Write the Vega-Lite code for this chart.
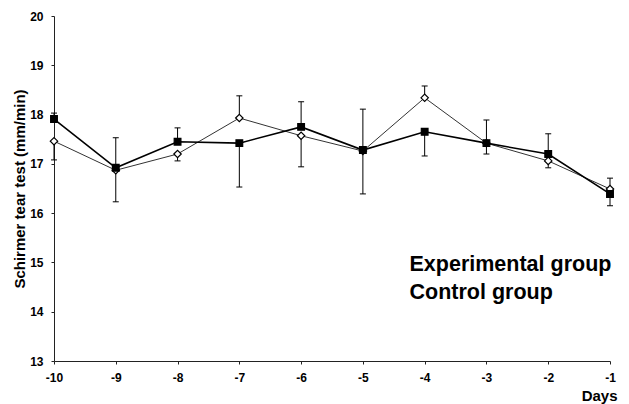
{
  "$schema": "https://vega.github.io/schema/vega-lite/v6.json",
  "width": 556,
  "height": 345,
  "autosize": "none",
  "padding": {"left": 54, "top": 16, "right": 19, "bottom": 43},
  "background": "white",
  "config": {"view": {"stroke": null}, "font": "Liberation Sans"},
  "data": {
    "values": [
      {"day": -10, "group": "Experimental group", "value": 17.46, "bar": 17.08},
      {"day": -9, "group": "Experimental group", "value": 16.87, "bar": 16.23},
      {"day": -8, "group": "Experimental group", "value": 17.2, "bar": 17.06},
      {"day": -7, "group": "Experimental group", "value": 17.93, "bar": 18.38},
      {"day": -6, "group": "Experimental group", "value": 17.57, "bar": 16.94},
      {"day": -5, "group": "Experimental group", "value": 17.26, "bar": 16.39},
      {"day": -4, "group": "Experimental group", "value": 18.34, "bar": 18.58},
      {"day": -3, "group": "Experimental group", "value": 17.42, "bar": 17.2},
      {"day": -2, "group": "Experimental group", "value": 17.06, "bar": 16.92},
      {"day": -1, "group": "Experimental group", "value": 16.49, "bar": 16.71},
      {"day": -10, "group": "Control group", "value": 17.91, "bar": 18.03},
      {"day": -9, "group": "Control group", "value": 16.92, "bar": 17.53},
      {"day": -8, "group": "Control group", "value": 17.45, "bar": 17.73},
      {"day": -7, "group": "Control group", "value": 17.42, "bar": 16.53},
      {"day": -6, "group": "Control group", "value": 17.75, "bar": 18.26},
      {"day": -5, "group": "Control group", "value": 17.28, "bar": 18.11},
      {"day": -4, "group": "Control group", "value": 17.65, "bar": 17.16},
      {"day": -3, "group": "Control group", "value": 17.42, "bar": 17.89},
      {"day": -2, "group": "Control group", "value": 17.2, "bar": 17.61},
      {"day": -1, "group": "Control group", "value": 16.39, "bar": 16.15}
    ]
  },
  "encoding": {
    "x": {
      "field": "day", "type": "quantitative",
      "scale": {"domain": [-10, -1], "nice": false, "zero": false},
      "axis": {
        "title": "Days", "values": [-10, -9, -8, -7, -6, -5, -4, -3, -2, -1],
        "labelExpr": "'' + datum.value",
        "grid": false, "domainColor": "#222", "domainWidth": 1, "tickColor": "#222", "tickSize": 3,
        "labelFont": "Liberation Sans", "labelFontSize": 12, "labelFontWeight": "bold", "labelColor": "black",
        "labelPadding": 8, "labelFlush": false,
        "titleFont": "Liberation Sans", "titleFontSize": 15, "titleFontWeight": "bold", "titleColor": "black",
        "titleAnchor": "end", "titleAlign": "right", "titleX": 563, "titleY": 39, "titleBaseline": "alphabetic"
      }
    },
    "y": {
      "field": "value", "type": "quantitative",
      "scale": {"domain": [13, 20], "nice": false, "zero": false},
      "axis": {
        "title": "Schirmer tear test (mm/min)", "values": [13, 14, 15, 16, 17, 18, 19, 20],
        "grid": false, "domainColor": "#222", "domainWidth": 1, "tickColor": "#222", "tickSize": 3,
        "labelFont": "Liberation Sans", "labelFontSize": 12, "labelFontWeight": "bold", "labelColor": "black",
        "labelPadding": 8,
        "titleFont": "Liberation Sans", "titleFontSize": 15, "titleFontWeight": "bold", "titleColor": "black",
        "titlePadding": 2
      }
    }
  },
  "layer": [
    {
      "mark": {"type": "rule", "color": "black", "strokeWidth": 1},
      "encoding": {"y2": {"field": "bar"}}
    },
    {
      "mark": {"type": "point", "shape": "M-1,0L1,0", "size": 36, "stroke": "black", "strokeWidth": 1, "filled": false, "opacity": 1},
      "encoding": {"y": {"field": "bar", "type": "quantitative"}}
    },
    {
      "mark": {"type": "line"},
      "encoding": {
        "detail": {"field": "group"},
        "color": {"condition": {"test": "datum.group === 'Control group'", "value": "#000000"}, "value": "#333333"},
        "strokeWidth": {"condition": {"test": "datum.group === 'Control group'", "value": 1.6}, "value": 1}
      }
    },
    {
      "mark": {"type": "point", "stroke": "black", "strokeWidth": 1.2, "opacity": 1},
      "encoding": {
        "shape": {
          "field": "group", "type": "nominal",
          "scale": {"domain": ["Experimental group", "Control group"], "range": ["diamond", "square"]},
          "legend": {
            "title": null, "orient": "none", "legendX": 321, "legendY": 238,
            "labelFont": "Liberation Sans", "labelFontSize": 21.5, "labelFontWeight": "bold", "labelColor": "black",
            "labelLimit": 400, "labelOffset": 13, "rowPadding": 5, "symbolSize": 60,
            "symbolStrokeWidth": 1.2, "symbolStrokeColor": "black", "symbolOpacity": 1
          }
        },
        "fill": {"condition": {"test": "datum.group === 'Control group'", "value": "black"}, "value": "white"},
        "size": {"condition": {"test": "datum.group === 'Control group'", "value": 45}, "value": 55}
      }
    }
  ]
}
